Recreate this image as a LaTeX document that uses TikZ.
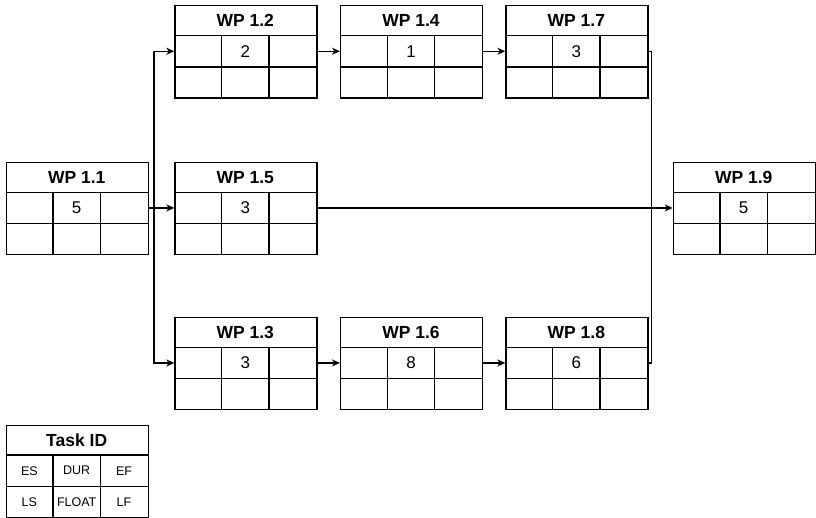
\documentclass[tikz,border=0pt]{standalone}
\usepackage{fontspec}
\setmainfont{Liberation Sans}
\usetikzlibrary{arrows.meta}
\tikzset{
  boxline/.style={line width=1.2pt, draw=black},
  titletext/.style={font=\fontsize{17.5}{19}\selectfont\bfseries, inner sep=0pt},
  celltext/.style={font=\fontsize{17}{19}\selectfont, inner sep=0pt},
  conn/.style={line width=1.2pt, draw=black},
  arr/.style={conn, -{Stealth[length=8pt,width=7pt,inset=2.5pt]}},
}
% #1 name, #2 x, #3 y(top), #4 title, #5 ES, #6 DUR, #7 EF, #8 LS, #9 FLOAT
\newcommand\taskbox[9]{%
  \node[boxline, rectangle, minimum width=142pt, minimum height=92.5pt, inner sep=0pt, anchor=north west] (#1) at (#2,#3) {};
  \draw[boxline] (#2,#3+30.5) -- (#2+142,#3+30.5);
  \draw[boxline] (#2,#3+62) -- (#2+142,#3+62);
  \draw[boxline] (#2+47.33,#3+30.5) -- (#2+47.33,#3+92.5);
  \draw[boxline] (#2+94.67,#3+30.5) -- (#2+94.67,#3+92.5);
  \node[titletext] (#1-t) at (#2+71,#3+15.5) {#4};
  \node[celltext] (#1-a) at (#2+23.67,#3+46.25) {#5};
  \node[celltext] (#1-b) at (#2+71,#3+46.25) {#6};
  \node[celltext] (#1-c) at (#2+118.33,#3+46.25) {#7};
  \node[celltext] (#1-d) at (#2+23.67,#3+77.25) {#8};
  \node[celltext] (#1-e) at (#2+71,#3+77.25) {#9};
  \coordinate (#1-in) at (#2,#3+46.25);
  \coordinate (#1-out) at (#2+142,#3+46.25);
}
\begin{document}
\begin{tikzpicture}[x=1pt,y=-1pt]
\useasboundingbox (0,0) rectangle (816,518);
\taskbox{wp11}{5.7}{161.7}{WP 1.1}{}{5}{}{}{}
\taskbox{wp12}{174.3}{5}{WP 1.2}{}{2}{}{}{}
\taskbox{wp14}{340}{5}{WP 1.4}{}{1}{}{}{}
\taskbox{wp17}{505.3}{5}{WP 1.7}{}{3}{}{}{}
\taskbox{wp15}{174.3}{161.7}{WP 1.5}{}{3}{}{}{}
\taskbox{wp19}{672.7}{161.7}{WP 1.9}{}{5}{}{}{}
\taskbox{wp13}{174.3}{316.7}{WP 1.3}{}{3}{}{}{}
\taskbox{wp16}{340}{316.7}{WP 1.6}{}{8}{}{}{}
\taskbox{wp18}{505.3}{316.7}{WP 1.8}{}{6}{}{}{}
\begin{scope}[celltext/.style={font=\fontsize{12.5}{14}\selectfont, inner sep=0pt}]
\taskbox{legend}{5.7}{424.5}{Task ID}{ES}{DUR}{EF}{LS}{FLOAT}
\node[celltext] (legend-f) at (5.7+118.33,424.5+77.25) {LF};
\end{scope}
% connectors
\coordinate (j1) at (154,207.95);
\coordinate (j2) at (651.7,207.95);
\draw[arr] (wp11-out) -- (wp15-in);
\draw[arr] (j1) |- (wp12-in);
\draw[arr] (j1) |- (wp13-in);
\draw[arr] (wp12-out) -- (wp14-in);
\draw[arr] (wp14-out) -- (wp17-in);
\draw[arr] (wp13-out) -- (wp16-in);
\draw[arr] (wp16-out) -- (wp18-in);
\draw[arr] (wp15-out) -- (wp19-in);
\draw[conn] (wp17-out) -| (j2);
\draw[conn] (wp18-out) -| (j2);
\end{tikzpicture}
\end{document}
